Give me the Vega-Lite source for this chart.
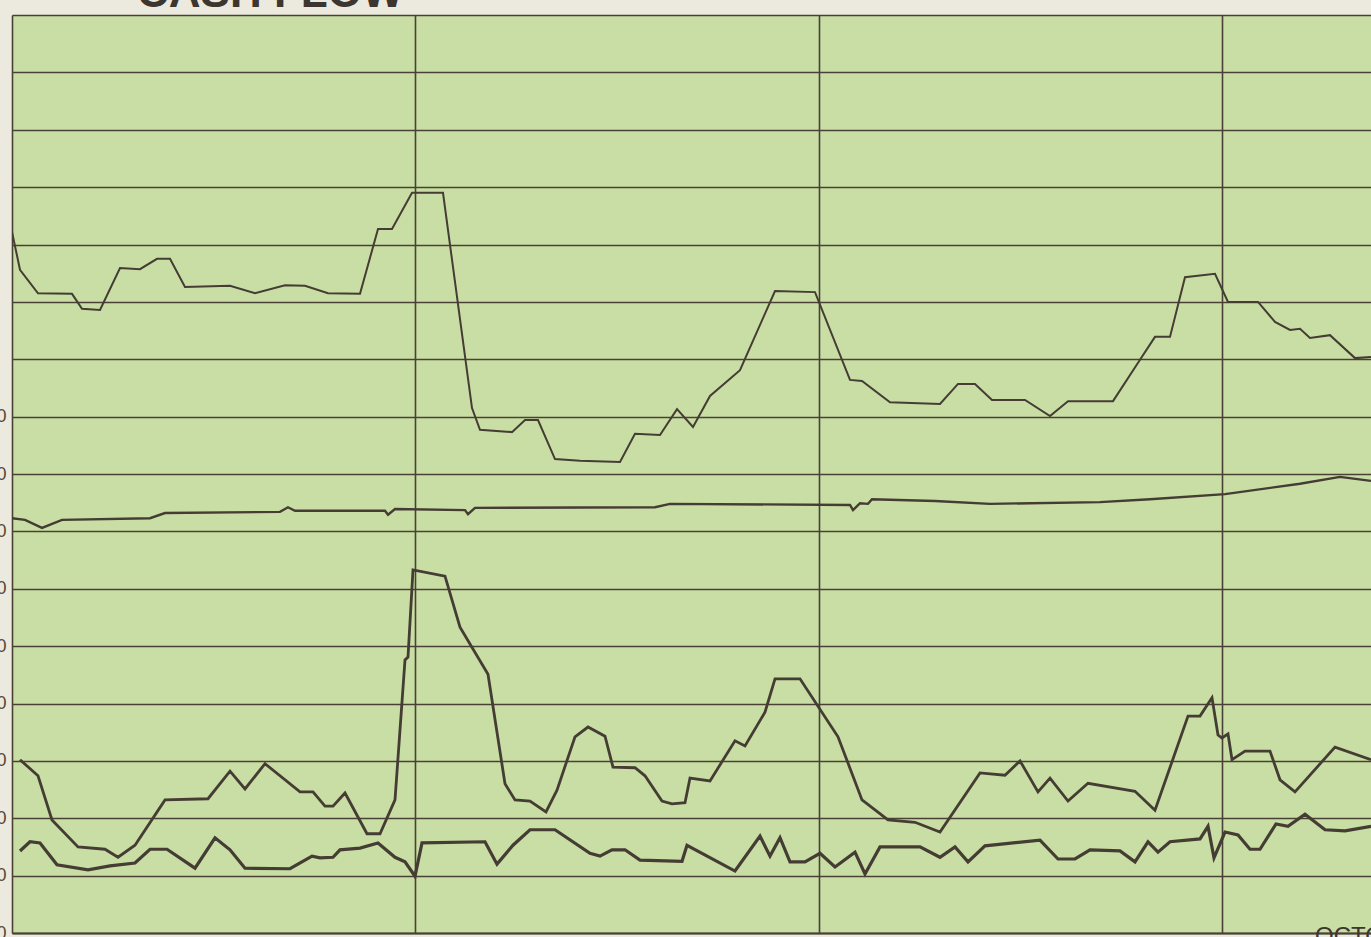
{
  "$schema": "https://vega.github.io/schema/vega-lite/v6.json",
  "autosize": "none",
  "width": 1359,
  "height": 918,
  "padding": {"left": 12, "top": 15, "right": 0, "bottom": 4},
  "background": "#ece9de",
  "config": {
    "view": {"fill": "#c8dea5", "stroke": null},
    "axis": {"gridColor": "#4a4036", "gridWidth": 1.6, "gridOpacity": 1, "domainColor": "#4a4036", "domainWidth": 1.8}
  },
  "data": {"values": [
    {"series": "A", "x": 0, "y": 12.22}, {"series": "A", "x": 0.8, "y": 11.56}, {"series": "A", "x": 2.6, "y": 11.15}, {"series": "A", "x": 6.0, "y": 11.14},
    {"series": "A", "x": 7.0, "y": 10.88}, {"series": "A", "x": 8.8, "y": 10.86}, {"series": "A", "x": 10.8, "y": 11.59}, {"series": "A", "x": 12.8, "y": 11.57},
    {"series": "A", "x": 14.5, "y": 11.75}, {"series": "A", "x": 15.8, "y": 11.75}, {"series": "A", "x": 17.3, "y": 11.26}, {"series": "A", "x": 21.8, "y": 11.28},
    {"series": "A", "x": 24.3, "y": 11.15}, {"series": "A", "x": 27.3, "y": 11.29}, {"series": "A", "x": 29.3, "y": 11.28}, {"series": "A", "x": 31.6, "y": 11.15},
    {"series": "A", "x": 34.8, "y": 11.14}, {"series": "A", "x": 36.6, "y": 12.27}, {"series": "A", "x": 38.0, "y": 12.27}, {"series": "A", "x": 40.0, "y": 12.9},
    {"series": "A", "x": 43.1, "y": 12.9}, {"series": "A", "x": 46.0, "y": 9.15}, {"series": "A", "x": 46.8, "y": 8.77}, {"series": "A", "x": 50.0, "y": 8.73},
    {"series": "A", "x": 51.3, "y": 8.94}, {"series": "A", "x": 52.6, "y": 8.94}, {"series": "A", "x": 54.3, "y": 8.26}, {"series": "A", "x": 56.8, "y": 8.23},
    {"series": "A", "x": 60.8, "y": 8.21}, {"series": "A", "x": 62.3, "y": 8.7}, {"series": "A", "x": 64.8, "y": 8.68}, {"series": "A", "x": 66.5, "y": 9.13},
    {"series": "A", "x": 68.1, "y": 8.82}, {"series": "A", "x": 69.8, "y": 9.36}, {"series": "A", "x": 72.8, "y": 9.81}, {"series": "A", "x": 76.3, "y": 11.19},
    {"series": "A", "x": 80.3, "y": 11.17}, {"series": "A", "x": 83.8, "y": 9.64}, {"series": "A", "x": 85.0, "y": 9.62}, {"series": "A", "x": 87.8, "y": 9.25},
    {"series": "A", "x": 92.8, "y": 9.22}, {"series": "A", "x": 94.6, "y": 9.57}, {"series": "A", "x": 96.3, "y": 9.57}, {"series": "A", "x": 98.0, "y": 9.29},
    {"series": "A", "x": 101.3, "y": 9.29}, {"series": "A", "x": 103.8, "y": 9.01}, {"series": "A", "x": 105.6, "y": 9.27}, {"series": "A", "x": 110.1, "y": 9.27},
    {"series": "A", "x": 112.8, "y": 9.99}, {"series": "A", "x": 114.3, "y": 10.39}, {"series": "A", "x": 115.8, "y": 10.39}, {"series": "A", "x": 117.3, "y": 11.43},
    {"series": "A", "x": 120.3, "y": 11.49}, {"series": "A", "x": 121.6, "y": 11.0}, {"series": "A", "x": 124.6, "y": 11.0}, {"series": "A", "x": 126.3, "y": 10.65},
    {"series": "A", "x": 127.8, "y": 10.51}, {"series": "A", "x": 128.8, "y": 10.53}, {"series": "A", "x": 129.8, "y": 10.37}, {"series": "A", "x": 131.8, "y": 10.42},
    {"series": "A", "x": 134.3, "y": 10.02}, {"series": "A", "x": 135.9, "y": 10.04},

    {"series": "B", "x": 0, "y": 7.23}, {"series": "B", "x": 1.3, "y": 7.2}, {"series": "B", "x": 3.0, "y": 7.06}, {"series": "B", "x": 5.0, "y": 7.2},
    {"series": "B", "x": 13.8, "y": 7.23}, {"series": "B", "x": 15.3, "y": 7.32}, {"series": "B", "x": 26.8, "y": 7.34}, {"series": "B", "x": 27.6, "y": 7.42},
    {"series": "B", "x": 28.3, "y": 7.36}, {"series": "B", "x": 37.3, "y": 7.36}, {"series": "B", "x": 37.6, "y": 7.29}, {"series": "B", "x": 38.3, "y": 7.39},
    {"series": "B", "x": 45.3, "y": 7.37}, {"series": "B", "x": 45.6, "y": 7.3}, {"series": "B", "x": 46.3, "y": 7.41}, {"series": "B", "x": 64.3, "y": 7.42},
    {"series": "B", "x": 65.8, "y": 7.48}, {"series": "B", "x": 83.8, "y": 7.46}, {"series": "B", "x": 84.1, "y": 7.37}, {"series": "B", "x": 84.8, "y": 7.49},
    {"series": "B", "x": 85.6, "y": 7.48}, {"series": "B", "x": 86.0, "y": 7.56}, {"series": "B", "x": 92.3, "y": 7.53}, {"series": "B", "x": 97.8, "y": 7.48},
    {"series": "B", "x": 108.8, "y": 7.51}, {"series": "B", "x": 113.8, "y": 7.56}, {"series": "B", "x": 121.3, "y": 7.65}, {"series": "B", "x": 128.8, "y": 7.83},
    {"series": "B", "x": 132.8, "y": 7.95}, {"series": "B", "x": 135.9, "y": 7.88},

    {"series": "C", "x": 0.8, "y": 3.02}, {"series": "C", "x": 2.6, "y": 2.74}, {"series": "C", "x": 4.0, "y": 1.97}, {"series": "C", "x": 6.6, "y": 1.5},
    {"series": "C", "x": 9.3, "y": 1.46}, {"series": "C", "x": 10.6, "y": 1.32}, {"series": "C", "x": 12.3, "y": 1.53}, {"series": "C", "x": 15.3, "y": 2.32},
    {"series": "C", "x": 19.6, "y": 2.34}, {"series": "C", "x": 21.8, "y": 2.82}, {"series": "C", "x": 23.3, "y": 2.51}, {"series": "C", "x": 25.3, "y": 2.95},
    {"series": "C", "x": 28.8, "y": 2.46}, {"series": "C", "x": 30.1, "y": 2.46}, {"series": "C", "x": 31.3, "y": 2.21}, {"series": "C", "x": 32.1, "y": 2.21},
    {"series": "C", "x": 33.3, "y": 2.44}, {"series": "C", "x": 35.5, "y": 1.73}, {"series": "C", "x": 36.8, "y": 1.73}, {"series": "C", "x": 38.3, "y": 2.32},
    {"series": "C", "x": 39.3, "y": 4.76}, {"series": "C", "x": 39.6, "y": 4.81}, {"series": "C", "x": 40.1, "y": 6.33}, {"series": "C", "x": 43.3, "y": 6.22},
    {"series": "C", "x": 44.8, "y": 5.33}, {"series": "C", "x": 47.6, "y": 4.51}, {"series": "C", "x": 49.3, "y": 2.6}, {"series": "C", "x": 50.3, "y": 2.32},
    {"series": "C", "x": 51.8, "y": 2.3}, {"series": "C", "x": 53.4, "y": 2.11}, {"series": "C", "x": 54.5, "y": 2.49}, {"series": "C", "x": 56.3, "y": 3.42},
    {"series": "C", "x": 57.6, "y": 3.59}, {"series": "C", "x": 59.3, "y": 3.43}, {"series": "C", "x": 60.1, "y": 2.89}, {"series": "C", "x": 62.3, "y": 2.88},
    {"series": "C", "x": 63.3, "y": 2.74}, {"series": "C", "x": 65.0, "y": 2.3}, {"series": "C", "x": 66.0, "y": 2.25}, {"series": "C", "x": 67.3, "y": 2.27},
    {"series": "C", "x": 67.8, "y": 2.7}, {"series": "C", "x": 69.8, "y": 2.65}, {"series": "C", "x": 72.3, "y": 3.35}, {"series": "C", "x": 73.3, "y": 3.26},
    {"series": "C", "x": 75.3, "y": 3.85}, {"series": "C", "x": 76.3, "y": 4.43}, {"series": "C", "x": 78.8, "y": 4.43}, {"series": "C", "x": 82.6, "y": 3.42},
    {"series": "C", "x": 85.0, "y": 2.32}, {"series": "C", "x": 87.6, "y": 1.97}, {"series": "C", "x": 90.3, "y": 1.93}, {"series": "C", "x": 92.8, "y": 1.76},
    {"series": "C", "x": 96.8, "y": 2.79}, {"series": "C", "x": 99.3, "y": 2.75}, {"series": "C", "x": 100.8, "y": 3.0}, {"series": "C", "x": 102.6, "y": 2.46},
    {"series": "C", "x": 103.8, "y": 2.7}, {"series": "C", "x": 105.6, "y": 2.3}, {"series": "C", "x": 107.6, "y": 2.61}, {"series": "C", "x": 112.3, "y": 2.47},
    {"series": "C", "x": 114.3, "y": 2.14}, {"series": "C", "x": 117.6, "y": 3.78}, {"series": "C", "x": 118.8, "y": 3.78}, {"series": "C", "x": 120.0, "y": 4.1},
    {"series": "C", "x": 120.6, "y": 3.45}, {"series": "C", "x": 121.0, "y": 3.4}, {"series": "C", "x": 121.6, "y": 3.47}, {"series": "C", "x": 122.0, "y": 3.02},
    {"series": "C", "x": 123.3, "y": 3.17}, {"series": "C", "x": 125.8, "y": 3.17}, {"series": "C", "x": 126.8, "y": 2.67}, {"series": "C", "x": 128.3, "y": 2.46},
    {"series": "C", "x": 132.3, "y": 3.24}, {"series": "C", "x": 135.9, "y": 3.02},

    {"series": "D", "x": 0.8, "y": 1.43}, {"series": "D", "x": 1.8, "y": 1.59}, {"series": "D", "x": 2.8, "y": 1.57}, {"series": "D", "x": 4.5, "y": 1.19},
    {"series": "D", "x": 7.6, "y": 1.1}, {"series": "D", "x": 9.8, "y": 1.17}, {"series": "D", "x": 12.3, "y": 1.22}, {"series": "D", "x": 13.8, "y": 1.46},
    {"series": "D", "x": 15.5, "y": 1.46}, {"series": "D", "x": 18.3, "y": 1.13}, {"series": "D", "x": 20.3, "y": 1.66}, {"series": "D", "x": 21.8, "y": 1.45},
    {"series": "D", "x": 23.3, "y": 1.13}, {"series": "D", "x": 27.8, "y": 1.12}, {"series": "D", "x": 30.0, "y": 1.34}, {"series": "D", "x": 30.8, "y": 1.31},
    {"series": "D", "x": 32.1, "y": 1.32}, {"series": "D", "x": 32.8, "y": 1.45}, {"series": "D", "x": 34.8, "y": 1.48}, {"series": "D", "x": 36.6, "y": 1.57},
    {"series": "D", "x": 38.3, "y": 1.32}, {"series": "D", "x": 39.3, "y": 1.24}, {"series": "D", "x": 40.3, "y": 0.99}, {"series": "D", "x": 41.0, "y": 1.57},
    {"series": "D", "x": 47.3, "y": 1.59}, {"series": "D", "x": 48.5, "y": 1.2}, {"series": "D", "x": 50.1, "y": 1.53}, {"series": "D", "x": 51.8, "y": 1.8},
    {"series": "D", "x": 54.3, "y": 1.8}, {"series": "D", "x": 57.8, "y": 1.39}, {"series": "D", "x": 58.8, "y": 1.34}, {"series": "D", "x": 60.0, "y": 1.45},
    {"series": "D", "x": 61.3, "y": 1.45}, {"series": "D", "x": 62.8, "y": 1.27}, {"series": "D", "x": 67.0, "y": 1.25}, {"series": "D", "x": 67.5, "y": 1.53},
    {"series": "D", "x": 72.3, "y": 1.08}, {"series": "D", "x": 74.8, "y": 1.69}, {"series": "D", "x": 75.8, "y": 1.34}, {"series": "D", "x": 76.8, "y": 1.66},
    {"series": "D", "x": 77.8, "y": 1.24}, {"series": "D", "x": 79.3, "y": 1.24}, {"series": "D", "x": 80.8, "y": 1.39}, {"series": "D", "x": 82.3, "y": 1.15},
    {"series": "D", "x": 84.3, "y": 1.41}, {"series": "D", "x": 85.3, "y": 1.03}, {"series": "D", "x": 86.8, "y": 1.5}, {"series": "D", "x": 90.8, "y": 1.5},
    {"series": "D", "x": 92.8, "y": 1.32}, {"series": "D", "x": 94.3, "y": 1.5}, {"series": "D", "x": 95.6, "y": 1.24}, {"series": "D", "x": 97.3, "y": 1.52},
    {"series": "D", "x": 102.8, "y": 1.62}, {"series": "D", "x": 104.6, "y": 1.29}, {"series": "D", "x": 106.3, "y": 1.29}, {"series": "D", "x": 107.8, "y": 1.45},
    {"series": "D", "x": 110.8, "y": 1.43}, {"series": "D", "x": 112.3, "y": 1.24}, {"series": "D", "x": 113.6, "y": 1.59}, {"series": "D", "x": 114.6, "y": 1.41},
    {"series": "D", "x": 115.8, "y": 1.59}, {"series": "D", "x": 118.8, "y": 1.64}, {"series": "D", "x": 119.6, "y": 1.86}, {"series": "D", "x": 120.2, "y": 1.31},
    {"series": "D", "x": 121.3, "y": 1.76}, {"series": "D", "x": 122.6, "y": 1.71}, {"series": "D", "x": 123.8, "y": 1.46}, {"series": "D", "x": 124.8, "y": 1.46},
    {"series": "D", "x": 126.4, "y": 1.9}, {"series": "D", "x": 127.6, "y": 1.86}, {"series": "D", "x": 129.3, "y": 2.07}, {"series": "D", "x": 131.3, "y": 1.8},
    {"series": "D", "x": 133.3, "y": 1.78}, {"series": "D", "x": 135.9, "y": 1.86}
  ]},
  "layer": [
    {
      "mark": {"type": "line", "strokeJoin": "miter", "clip": true},
      "encoding": {
        "x": {"field": "x", "type": "quantitative", "scale": {"domain": [0, 135.9], "nice": false, "zero": false},
          "axis": {"values": [0, 40.3, 80.7, 121], "grid": true, "labels": false, "ticks": false, "title": null, "domain": true}},
        "y": {"field": "y", "type": "quantitative", "scale": {"domain": [0, 16], "nice": false},
          "axis": {"values": [0, 1, 2, 3, 4, 5, 6, 7, 8, 9, 10, 11, 12, 13, 14, 15, 16], "grid": true, "ticks": false, "domain": false, "title": null,
            "labelExpr": "datum.value <= 9 ? '00' : ''", "labelPadding": 6, "labelFontSize": 18, "labelFont": "Liberation Sans", "labelColor": "#5a4634", "labelAlign": "right"}},
        "detail": {"field": "series"},
        "color": {"value": "#453c33"},
        "strokeWidth": {"field": "series", "type": "nominal", "scale": {"domain": ["A", "B", "C", "D"], "range": [2, 3.2, 2.2, 3]}, "legend": null}
      }
    },
    {
      "data": {"values": [{"x": 12.5, "y": 16, "label": "CASH FLOW"}]},
      "mark": {"type": "text", "align": "left", "baseline": "alphabetic", "dy": -8, "fontSize": 44, "font": "Liberation Sans", "fontWeight": "bold", "color": "#3c3530"},
      "encoding": {
        "x": {"field": "x", "type": "quantitative"},
        "y": {"field": "y", "type": "quantitative"},
        "text": {"field": "label"}
      }
    },
    {
      "data": {"values": [{"x": 130.3, "y": 0, "label": "OCTOBER"}]},
      "mark": {"type": "text", "align": "left", "baseline": "top", "dy": -8, "fontSize": 24, "font": "Liberation Sans", "color": "#3c3530"},
      "encoding": {
        "x": {"field": "x", "type": "quantitative"},
        "y": {"field": "y", "type": "quantitative"},
        "text": {"field": "label"}
      }
    }
  ]
}
